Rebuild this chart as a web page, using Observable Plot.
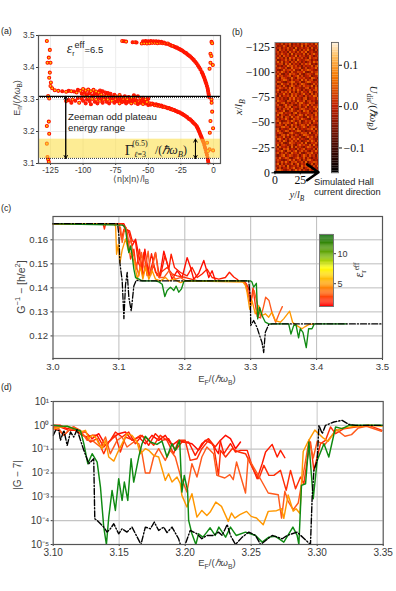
<!DOCTYPE html>
<html><head><meta charset="utf-8">
<script src="https://cdn.jsdelivr.net/npm/d3@7"></script>
<script src="https://cdn.jsdelivr.net/npm/@observablehq/plot@0.6"></script>
<style>
html,body{margin:0;padding:0;background:#fff}
#root{position:relative;width:396px;height:591px;overflow:hidden;font-family:"Liberation Sans",sans-serif}
#root svg{position:absolute;left:0;background:transparent;overflow:visible}
.t{position:absolute;white-space:nowrap;line-height:1;color:#222}
.t sub,.t sup{font-size:72%;line-height:0}
</style></head><body><div id="root"></div>
<script>
// ---------- panel (a): eigenvalues ----------
const edgeLeft=[[-127.8,3.483],[-125.5,3.455],[-126.3,3.431],[-127.3,3.415],[-125,3.415],[-125.5,3.384],[-126,3.368],[-124.7,3.353],[-125,3.342],[-123.7,3.335],[-121.7,3.329],[-126.8,3.311],[-126,3.303],[-126.3,3.231],[-127.8,3.217],[-126,3.193],[-127.8,3.162],[-127.3,3.12],[-126.8,3.113],[-126.3,3.105]];
const edgeRight=[[-1.5,3.48],[-1,3.476],[-2.3,3.443],[-1.6,3.436],[-2.3,3.415],[-.5,3.408],[-3,3.396],[-1.5,3.3],[-1.4,3.29],[-1,3.262],[-2.3,3.233],[-.3,3.21],[-2.8,3.196],[-4.9,3.165],[-.3,3.141],[-3,3.144],[-4.2,3.139]];
const bandUpper=[[-119,3.327],[-116,3.326],[-113,3.324],[-111,3.327],[-109,3.326],[-107,3.325],[-105,3.322],[-104,3.33],[-102,3.327],[-101,3.318],[-100,3.333],[-99,3.322],[-98,3.328],[-97,3.316],[-96,3.331],[-95,3.32],[-94,3.326],[-93,3.312],[-92,3.33],[-91,3.319],[-90,3.325],[-89,3.314],[-88,3.322],[-87,3.328],[-86,3.316],[-85,3.326],[-84,3.31],[-83,3.322],[-82,3.312],[-81,3.32],[-80,3.31],[-79,3.318],[-78,3.308],[-76,3.315],[-75,3.31],[-74,3.306],[-72,3.314],[-71,3.308],[-70,3.304],[-68,3.31],[-67,3.305],[-65,3.308],[-63,3.305],[-61,3.313],[-60,3.303],[-58,3.31],[-56,3.302],[-54,3.305],[-52,3.3],[-50,3.302]];
const bandLower=[[-113,3.295],[-111,3.298],[-109,3.29],[-108,3.3],[-106,3.296],[-104,3.305],[-103,3.29],[-101,3.302],[-100,3.296],[-99,3.31],[-98,3.288],[-97,3.3],[-96,3.306],[-95,3.295],[-94,3.285],[-93,3.302],[-92,3.31],[-91,3.293],[-90,3.3],[-89,3.288],[-88,3.306],[-87,3.296],[-86,3.302],[-85,3.29],[-84,3.3],[-83,3.306],[-82,3.293],[-81,3.3],[-80,3.288],[-79,3.303],[-78,3.296],[-77,3.305],[-76,3.29],[-75,3.3],[-74,3.295],[-73,3.303],[-72,3.288],[-71,3.298],[-70,3.292],[-69,3.3],[-68,3.295],[-67,3.288],[-66,3.3],[-65,3.293],[-64,3.298],[-63,3.288],[-62,3.295],[-61,3.3],[-60,3.29],[-59,3.296],[-58,3.286],[-57,3.294],[-56,3.29],[-55,3.297],[-54,3.286],[-53,3.293],[-52,3.288],[-51,3.292],[-50,3.283]];
const lowerCurve=[[-49,3.288],[-48,3.284],[-47,3.287],[-46,3.285],[-45,3.282],[-44,3.285],[-43,3.281],[-42,3.283],[-41,3.279],[-40,3.281],[-39,3.277],[-38,3.278],[-37,3.276],[-36,3.275],[-35,3.273],[-34,3.273],[-33,3.27],[-32,3.27],[-31,3.267],[-30,3.267],[-29,3.264],[-28,3.263],[-27,3.26],[-26,3.26],[-25,3.257],[-24,3.255],[-23,3.252],[-22,3.25],[-21,3.247],[-20,3.244],[-19,3.24],[-18,3.238],[-17,3.234],[-16,3.23],[-15,3.226],[-14,3.222],[-13,3.217],[-12.5,3.213],[-12,3.209],[-11.5,3.205],[-11,3.2],[-10.5,3.195],[-10,3.19],[-9.5,3.185],[-9,3.18],[-8.5,3.175],[-8,3.17],[-7.5,3.165],[-7,3.158],[-6.5,3.15],[-6,3.143],[-5.5,3.135],[-5,3.127],[-4.5,3.118],[-4.2,3.11],[-3.9,3.103]];
const upperCurve=[[-70,3.483],[-68.5,3.482],[-67,3.481],[-62,3.479],[-60,3.479],[-59,3.478],[-55,3.475],[-54,3.482],[-53,3.476],[-52,3.483],[-51,3.475],[-50,3.482],[-49,3.476],[-48,3.483],[-47,3.477],[-46,3.482],[-45,3.477],[-44,3.482],[-43,3.476],[-42,3.481],[-41,3.477],[-40,3.48],[-39,3.476],[-38,3.478],[-37,3.475],[-36,3.474],[-35,3.475],[-34,3.472],[-33,3.47],[-32,3.468],[-31,3.467],[-30,3.465],[-29,3.463],[-28,3.462],[-27,3.459],[-26,3.458],[-25,3.455],[-24,3.453],[-23,3.45],[-22,3.447],[-21,3.445],[-20,3.441],[-19,3.438],[-18,3.435],[-17,3.431],[-16,3.427],[-15,3.423],[-14,3.418],[-13,3.413],[-12,3.407],[-11,3.401],[-10,3.394],[-9,3.386],[-8.5,3.382],[-8,3.377],[-7.5,3.372],[-7,3.367],[-6.5,3.361],[-6,3.355],[-5.5,3.349],[-5,3.342],[-4.5,3.335],[-4.2,3.328],[-3.9,3.321],[-3.6,3.315],[-3.3,3.308]];
const plateauTop=3.31, plateauBottom=3.116, gammaTop=3.176;

// ---------- panel (b): disorder potential, one digit per cell, level = (d-5)*0.013 ----------
const disorderRows=[
"4537264815362748536294","6243851726453917264538","3572648351924635718246","5184627349516274935172","4726351846273859146325","2648537192645381726954",
"5371846253917462385146","3846271958364725194673","6125483726195347862531","4938265174836251473968","3567184926351748692415","7241539684725163548279",
"4685371294658137246593","5213846759231846975324","3749625184376592138467","6482153967428315764289","2957346815693724581346","4618752394186573429751",
"5326984173562948367125","3874215698347126985463","6139547283615974213846","4762831596247385649172","2586473918564237815394","5943126748395162473685",
"3617584926173845296147","7254936185742693518273","4182657394826517364982","5736241859364278145639","2965418736295481673524","6347825164738952486713",
"4821593672148365927346","3574286915637248153869","5162748395216874364592","7435912684375196825147","2689364517926345741683","4917523846159728356294",
"5348176293684512947365","3726495128573964218576","6851237496248137563942","4293768515937246481657","5674182394615873926314","2438956172843695157842",
"6715324869172534769283","3962487153698241345716","4586213795324867291548","5127849362751498634275","7364925186437215958361","3895162748593642176423",
"4273961584726135849627","5648213976354829126583","3916752483169574382941","6284537192846315975264","4731869254173682543718","2569418736925847316495",
"5826374195638214769352","3147925863471596284617","6493587214695382741536","4752136948257163895243","2638495176834729156874","5917263481592647328165",
"3485719246371958462739","6271548369246815793542","4896325714958263174685","5324976182735491628357"];
const disorderCols=22;
const disorderValues=disorderRows.flatMap(r=>Array.from(r,d=>(+d-5)*0.013));
const potentialStops=[-0.16,-0.1,0,0.07,0.12,0.16];
const potentialColors=["#000000","#440800","#c02000","#f57800","#ffc060","#ffffff"];

// ---------- panel (c): inverse conductance ----------
const cRedA=[[3,.1667],[3.1076,.1667],[3.1101,.1651],[3.1151,.163],[3.1202,.1575],[3.1253,.1603],[3.1303,.1533],[3.1354,.1471],[3.1394,.1561],[3.1455,.145],[3.1556,.1547],[3.1616,.1443],[3.1682,.1553],[3.1758,.1478],[3.1808,.1436],[3.1884,.1471],[3.196,.1443],[3.2035,.1526],[3.2086,.1486],[3.2136,.1436],[3.2212,.1461],[3.2288,.1514],[3.2364,.1443],[3.2414,.1471],[3.2465,.1429]];
const cRedB=[[3,.1667],[3.105,.1667],[3.1101,.1644],[3.1162,.1637],[3.1202,.1596],[3.1253,.159],[3.1293,.1506],[3.1343,.1478],[3.1379,.1547],[3.1429,.1451],[3.1495,.1542],[3.1556,.1464],[3.1631,.145],[3.1697,.1533],[3.1758,.1478],[3.1793,.154],[3.1843,.1485],[3.1934,.1464],[3.2035,.145],[3.2111,.1485],[3.2187,.1443],[3.2263,.1458],[3.2338,.1478],[3.2414,.1443],[3.2515,.1436],[3.2616,.1443],[3.2677,.1465],[3.2743,.1445],[3.2793,.1436],[3.282,.1429],[3.2894,.1429],[3.2934,.1417],[3.297,.1396],[3.3005,.1347]];
const cRedC=[[3,.1667],[3.076,.1667],[3.078,.1645],[3.08,.1667],[3.1,.1667],[3.104,.1603],[3.1076,.1644],[3.1126,.163],[3.1177,.152],[3.1227,.1561],[3.1263,.1478],[3.1313,.1561],[3.1364,.145],[3.1414,.1506],[3.1455,.145],[3.1531,.1492],[3.1581,.145],[3.1667,.1471],[3.1732,.1485],[3.1808,.1458],[3.1884,.145],[3.201,.1443],[3.22,.1429],[3.29,.1429],[3.2924,.1417],[3.2975,.1361],[3.3,.1325],[3.3035,.14],[3.307,.133],[3.31,.128],[3.315,.1275]];
const cRedD=[[3,.1667],[3.098,.1667],[3.1025,.1651],[3.105,.1589],[3.1076,.1631],[3.1111,.1651],[3.1141,.1575],[3.1177,.1603],[3.1212,.1547],[3.1253,.1506],[3.1303,.145],[3.1343,.1547],[3.1394,.1471],[3.1444,.1553],[3.148,.1451],[3.1556,.1547],[3.1606,.1443],[3.1682,.1443],[3.1758,.1471],[3.1859,.1436],[3.1934,.1443],[3.201,.1429],[3.2874,.1428],[3.2924,.1417],[3.296,.1375],[3.3,.1347],[3.3051,.1389],[3.3101,.1333],[3.3152,.1278],[3.3192,.1319],[3.3227,.1361],[3.3278,.1347],[3.3328,.1292],[3.3379,.1257],[3.343,.1292],[3.348,.1322]];
const cOrange=[[3,.1667],[3.0924,.1667],[3.095,.1656],[3.0965,.154],[3.099,.1581],[3.1015,.1504],[3.105,.1558],[3.1101,.1604],[3.1151,.1547],[3.1192,.154],[3.1242,.1497],[3.1278,.1436],[3.1328,.1486],[3.1364,.1436],[3.1404,.1486],[3.1455,.1436],[3.1505,.1471],[3.1556,.1436],[3.1631,.1429],[3.1707,.1443],[3.1758,.1429],[3.1833,.1436],[3.1934,.1422],[3.201,.1429],[3.2884,.1424],[3.2919,.141],[3.2944,.1383],[3.2985,.1311],[3.302,.1347],[3.307,.1292],[3.3121,.1326],[3.3172,.1285],[3.3222,.1292],[3.3273,.1278],[3.3323,.1299],[3.3374,.1264],[3.345,.1257],[3.35,.1271],[3.3591,.1303],[3.3636,.1257],[3.3677,.1247],[3.3778,.123],[3.3828,.1239],[3.3879,.1247],[3.3955,.125]];
const cGreen=[[3,.1667],[3.105,.1661],[3.1076,.1658],[3.1101,.1644],[3.1126,.1589],[3.1151,.1547],[3.1177,.1575],[3.1202,.1533],[3.1227,.1478],[3.1253,.1443],[3.1303,.1436],[3.1354,.1429],[3.1556,.1429],[3.1606,.1425],[3.1657,.1415],[3.1697,.1364],[3.1732,.1389],[3.1783,.1403],[3.1833,.1389],[3.1869,.1407],[3.1909,.1382],[3.195,.1396],[3.1985,.1426],[3.201,.1429],[3.3,.1429],[3.302,.1424],[3.3045,.1403],[3.3086,.1419],[3.3106,.1271],[3.3136,.1319],[3.3172,.1285],[3.3222,.1257],[3.3273,.125],[3.3576,.125],[3.3611,.1208],[3.3652,.1243],[3.3687,.1247],[3.3727,.1192],[3.3752,.123],[3.3793,.1215],[3.3843,.1151],[3.3879,.123],[3.393,.123],[3.3965,.125],[3.445,.125]];
const cBlack=[[3,.1667],[3.098,.1667],[3.1,.1617],[3.1015,.1504],[3.105,.1429],[3.1076,.1272],[3.1101,.1415],[3.1126,.1464],[3.1151,.136],[3.1187,.1304],[3.1227,.1408],[3.1263,.1432],[3.13,.1429],[3.297,.1429],[3.2995,.1361],[3.3,.1243],[3.3045,.1264],[3.3095,.1236],[3.3136,.1201],[3.3172,.1172],[3.3197,.1131],[3.3222,.1215],[3.3273,.1247],[3.3323,.125],[3.5,.125]];

// ---------- panel (d): |G-7|, second member is log10 ----------
const dRedA=[[3.1,0],[3.1055,0],[3.1106,-.14],[3.1156,-.07],[3.1207,-.28],[3.1244,-.28],[3.1295,-.56],[3.1345,-.35],[3.1396,-.84],[3.1446,-.56],[3.1496,-.35],[3.1547,-.28],[3.1597,-.63],[3.1648,-.49],[3.1698,-.77],[3.1748,-.42],[3.1799,-.63],[3.1849,-.42],[3.19,-.84],[3.195,-.63],[3.1988,-.7],[3.2051,-.77],[3.2101,-1.05],[3.2152,-.63],[3.2202,-.77],[3.2252,-1.19],[3.2268,-.63],[3.2306,-.42],[3.2343,-.56],[3.2381,-.98],[3.2419,-.7]];
const dRedB=[[3.1,-.07],[3.1055,-.07],[3.1118,-.21],[3.1169,-.21],[3.1219,-.42],[3.1257,-.49],[3.1295,-.42],[3.1333,-.42],[3.1383,-.91],[3.1433,-.63],[3.1471,-.28],[3.1522,-.49],[3.1572,-.28],[3.1622,-.77],[3.1673,-.42],[3.1723,-.84],[3.1774,-.35],[3.1824,-.63],[3.1874,-.56],[3.1925,-1.05],[3.1975,-.7],[3.2026,-.7],[3.2076,-1.26],[3.2126,-.77],[3.2177,-.56],[3.2227,-.91],[3.2265,-.63],[3.2293,-1.19],[3.2343,-.77],[3.2381,-1.12],[3.2419,-1.05],[3.247,-1.05],[3.2508,-1.75],[3.2545,-2.24],[3.2583,-1.61],[3.2609,-1.12],[3.2659,-.8],[3.2697,-1.33],[3.2722,-1.05],[3.2755,-1.36]];
const dRedC=[[3.1,-.14],[3.1043,-.21],[3.1081,-.42],[3.1131,-.14],[3.1181,-.21],[3.1232,-.42],[3.1282,-.7],[3.1333,-.56],[3.1383,-1.19],[3.1421,-.7],[3.1471,-.42],[3.1509,-1.12],[3.1547,-.49],[3.161,-.63],[3.166,-.42],[3.1711,-.56],[3.1761,-.84],[3.1811,-.42],[3.1862,-.63],[3.1912,-1.19],[3.195,-.63],[3.2,-.63],[3.2038,-1.47],[3.2089,-1.4],[3.2126,-.98],[3.2177,-.63],[3.2215,-.84],[3.2252,-2.1],[3.2268,-1.05],[3.2306,-1.33],[3.2356,-.98],[3.2407,-1.12],[3.2457,-1.19],[3.2482,-1.47],[3.252,-1.89],[3.2558,-2.24],[3.2596,-1.68],[3.2634,-2.1],[3.2672,-2.1],[3.2722,-1.89],[3.2765,-2.73],[3.2798,-1.89],[3.2836,-2.66],[3.2874,-2.17],[3.2899,-2.45],[3.2924,-1.47],[3.2949,-.7],[3.2975,-1.89],[3.3025,-.77],[3.3063,-.63],[3.3101,-.07],[3.3139,-.35],[3.3202,-.14],[3.329,-.07],[3.3391,0],[3.3492,-.21]];
const dRedD=[[3.1,-.07],[3.1043,-.14],[3.1081,-.42],[3.1118,-.21],[3.1156,-.07],[3.1207,-.21],[3.1257,-.63],[3.1295,-.63],[3.1358,-.91],[3.1396,-.49],[3.1433,-1.19],[3.1484,-.63],[3.1522,-.49],[3.1559,-.91],[3.161,-.7],[3.1648,-.77],[3.1673,-1.19],[3.1698,-2],[3.1731,-2],[3.1761,-1.33],[3.1799,-.98],[3.1849,-1.47],[3.1887,-1.05],[3.1925,-1.33],[3.1963,-2.1],[3.2013,-2.8],[3.2051,-1.61],[3.2089,-2.17],[3.2126,-1.33],[3.2164,-.91],[3.2215,-1.19],[3.224,-2.1],[3.23,-2.21],[3.2338,-2.07],[3.2364,-2.28],[3.2389,-1.54],[3.2457,-2.84],[3.2477,-1.37],[3.2566,-2.21],[3.2629,-2.84],[3.2705,-2.91],[3.273,-3.89],[3.2755,-2.77],[3.278,-3.19],[3.2818,-3.54],[3.2856,-3.26],[3.2894,-2.07],[3.2939,-.6],[3.297,-1.37],[3.3,-.67],[3.3058,-.81],[3.3096,-.53],[3.3146,-.18],[3.321,-.46],[3.326,-.39],[3.3311,-.11],[3.3374,-.04],[3.3487,-.25]];
const dOrange=[[3.1,-.14],[3.1055,-.07],[3.1106,-.04],[3.1156,-.14],[3.1207,-.28],[3.1244,-.21],[3.127,-.56],[3.1295,-.42],[3.132,-.49],[3.1345,-.77],[3.137,-.98],[3.1396,-.63],[3.1421,-1.33],[3.1459,-1.5],[3.1484,-1.19],[3.1522,-.77],[3.1559,-.35],[3.1597,-.42],[3.1635,-.7],[3.166,-1.19],[3.1698,-.98],[3.1723,-1.05],[3.1761,-1.26],[3.1799,-1.33],[3.1824,-1.82],[3.1849,-2.31],[3.1874,-2.03],[3.19,-2.38],[3.1938,-2.17],[3.1963,-2.45],[3.1975,-2.94],[3.2013,-3.43],[3.2051,-2.87],[3.2089,-3.85],[3.2126,-3.57],[3.2164,-3.78],[3.2189,-3.64],[3.2232,-3.22],[3.2275,-3.4],[3.2326,-4.03],[3.2351,-3.68],[3.2376,-3.89],[3.2414,-3.75],[3.2465,-3.61],[3.25,-3.82],[3.254,-3.89],[3.2591,-4.17],[3.2629,-3.61],[3.2692,-3.58],[3.273,-3.5],[3.2747,-3.9],[3.278,-2.92],[3.2818,-3.6],[3.284,-3.5],[3.2869,-3.7],[3.2894,-1.1],[3.2932,-.67],[3.2982,-.2],[3.3045,-.53],[3.3083,-.67],[3.3134,-.25],[3.3197,-.11],[3.3298,-.04],[3.3399,0],[3.35,-.04]];
const dGreen=[[3.1,0],[3.1055,-.03],[3.1106,-.04],[3.1156,-.14],[3.1207,-.24],[3.1232,-.77],[3.1262,-1.61],[3.1295,-1.19],[3.1333,-1.54],[3.1358,-2.59],[3.1383,-4.27],[3.1403,-5],[3.1421,-3.85],[3.1446,-2.73],[3.1471,-3.57],[3.1496,-2.24],[3.1522,-3.15],[3.1539,-2.38],[3.1565,-3.15],[3.159,-1.4],[3.161,-2.38],[3.1648,-1.33],[3.1673,-.77],[3.1698,-.46],[3.1736,-.7],[3.1786,-.8],[3.1824,-.66],[3.1862,-1.33],[3.19,-.77],[3.1925,-1.05],[3.1958,-.63],[3.1975,-2.8],[3.1993,-2.1],[3.2018,-2.73],[3.2026,-3.99],[3.2051,-4.55],[3.2081,-5],[3.2101,-4.55],[3.2134,-4.69],[3.2164,-4.48],[3.2189,-4.3],[3.2227,-4.62],[3.2255,-4.27],[3.2306,-4.69],[3.2343,-4.27],[3.2386,-4.62],[3.2457,-4.48],[3.2533,-4.62],[3.2583,-4.9],[3.2634,-4.69],[3.2684,-4.66],[3.2747,-4.9],[3.2816,-4.27],[3.2848,-4.62],[3.2861,-5],[3.2881,-2.52],[3.2912,-2.45],[3.2937,-.7],[3.297,-3.08],[3.3,-1.47],[3.3051,-.77],[3.3088,-1.33],[3.3139,-.07],[3.3189,-.14],[3.324,0],[3.334,0],[3.35,0]];
const dBlack=[[3.1,-.42],[3.1018,-.21],[3.1043,-.21],[3.1055,-.63],[3.1081,-.21],[3.1106,-.84],[3.1131,-.28],[3.1156,-.49],[3.1181,-.18],[3.1207,-.63],[3.1232,-1.05],[3.127,-1.61],[3.1307,-1.4],[3.1315,-3.92],[3.1333,-3.99],[3.1358,-4.13],[3.1383,-4.27],[3.1408,-4.48],[3.1433,-4.34],[3.1459,-4.13],[3.1496,-4.55],[3.1522,-4.34],[3.1559,-4.48],[3.1597,-4.27],[3.163,-4.62],[3.1665,-5],[3.1698,-4.27],[3.1736,-4.34],[3.1766,-4.06],[3.1799,-4.41],[3.1837,-4.27],[3.1862,-4.5],[3.19,-4.27],[3.195,-4.76],[3.1975,-5.2],[3.2,-5],[3.2038,-4.41],[3.2089,-4.55],[3.2126,-4.76],[3.2164,-4.62],[3.2215,-4.62],[3.2252,-4.48],[3.228,-4.62],[3.2318,-4.16],[3.2343,-4.62],[3.2381,-5],[3.2432,-4.69],[3.2482,-4.48],[3.2533,-4.62],[3.2571,-5],[3.2659,-4.62],[3.2735,-4.76],[3.2773,-4.62],[3.2848,-4.48],[3.2949,-5],[3.2962,-3.01],[3.2975,-1.89],[3.3,-1.47],[3.3013,0],[3.3038,-.35],[3.3063,0],[3.3126,.14],[3.3189,.21],[3.324,.04],[3.329,0],[3.35,0]];

// ---------- colours & scales ----------
const red="#ff0c00",red2="#ff1c00",red3="#ff2e06",red4="#ff5a1c",orange="#ff9800",green="#0f8a12",black="#000";
const epsStops=[1.2,4.5,7.5,9.5,13.2];
const epsColors=["#ff0000","#ff9000","#ffff00","#70b000","#006400"];
const gridC="#bdbdbd", frameC="#555", tickC="#3a3a3a";
const root=document.getElementById("root");
function place(plot,top){plot.style.top=top+"px";root.appendChild(plot);}
const sans=s=>({background:"transparent",fontFamily:'"Liberation Sans",sans-serif',fontSize:s+"px",color:tickC});
function P(L,R,T,B,o){place(Plot.plot(Object.assign({width:396,height:B-T+40,marginLeft:L,marginRight:396-R,marginTop:20,marginBottom:20},o)),T-20);}
const pair=a=>a.map(([x,y])=>({x,y}));

// (a)
const yellow="#ffd000", hot="#ff2400";
const bandPts=[...pair(bandUpper).map((p,i)=>({...p,f:i%2?hot:yellow})),...pair(bandLower).map((p,i)=>({...p,f:i%3?hot:yellow}))];
const curvePts=[...pair(lowerCurve),...pair(upperCurve)].map((p,i)=>({...p,f:p.x>-30||i%2?hot:yellow}));
const edgePts=[...pair(edgeLeft),...pair(edgeRight)].map(p=>({...p,f:yellow}));
P(38,220,34.5,162.5,{style:sans(8.2),x:{domain:[-134.2,5.4]},y:{domain:[3.1,3.5]},marks:[
  Plot.gridX([-125,-100,-75,-50,-25,0],{stroke:"#ececec",strokeOpacity:1}),
  Plot.gridY([3.2,3.3,3.4],{stroke:"#ececec",strokeOpacity:1}),
  Plot.dot([...bandPts,...curvePts,...edgePts],{x:"x",y:"y",r:1.5,fill:"f",stroke:"#ff1200",strokeWidth:1.1}),
  Plot.rect([{y1:plateauBottom,y2:gammaTop}],{x1:-134.2,x2:5.4,y1:"y1",y2:"y2",fill:"#fbdc3c",fillOpacity:.55}),
  Plot.ruleY([plateauTop-.004,plateauBottom],{stroke:"#333",strokeDasharray:"1,1",strokeWidth:1}),
  Plot.ruleY([plateauTop],{stroke:"#000",strokeWidth:1.2}),
  Plot.arrow([{x:-113.3,y1:plateauTop,y2:plateauBottom}],{x:"x",y1:"y1",y2:"y2",bend:0,stroke:"#000",strokeWidth:1,headLength:5,inset:0}),
  Plot.arrow([{x:-113.3,y1:plateauBottom,y2:plateauTop}],{x:"x",y1:"y1",y2:"y2",bend:0,stroke:"#000",strokeWidth:1,headLength:5,inset:0}),
  Plot.arrow([{x:-13.8,y1:gammaTop,y2:plateauBottom}],{x:"x",y1:"y1",y2:"y2",bend:0,stroke:"#000",strokeWidth:1,headLength:5,inset:0}),
  Plot.arrow([{x:-13.8,y1:plateauBottom,y2:gammaTop}],{x:"x",y1:"y1",y2:"y2",bend:0,stroke:"#000",strokeWidth:1,headLength:5,inset:0}),
  Plot.axisX({ticks:[-125,-100,-75,-50,-25,0],tickSize:2,tickPadding:2,label:null,tickFormat:d=>d<0?"-"+(-d):""+d}),
  Plot.axisY({ticks:[3.1,3.2,3.3,3.4,3.5],tickSize:2,tickPadding:2,label:null,tickFormat:".1f"}),
  Plot.frame({stroke:frameC,strokeWidth:1.2})
]});

// (b)
const serif={fontFamily:'"Liberation Serif",serif',fontSize:"11.8px",color:"#111",background:"transparent"};
P(274.5,318,41.7,172,{style:serif,x:{domain:[0,43]},y:{domain:[0,-130]},
  color:{type:"linear",domain:potentialStops,range:potentialColors},marks:[
  Plot.raster(disorderValues,{width:disorderCols,height:disorderRows.length,x1:0,x2:43,y1:-130,y2:0,fill:d=>d,imageRendering:"pixelated"}),
  Plot.axisX({ticks:[0,25],tickSize:2,tickPadding:1,label:null}),
  Plot.axisY({ticks:[-125,-100,-75,-50,-25,0],tickSize:3,tickPadding:2,label:null,tickFormat:d=>d<0?"\u2212"+(-d):""+d}),
  Plot.frame({stroke:"#888",strokeWidth:1}),
  Plot.arrow([{x1:0,x2:43}],{x1:"x1",x2:"x2",y1:-.5,y2:-.5,bend:0,stroke:"#000",strokeWidth:2.6,headLength:8,headAngle:70,inset:0})
]});
const levelsP=d3.range(-.16,.155,.004);
P(331,338,41.7,172,{style:serif,x:{axis:null,domain:[0,1]},y:{domain:[-.16,.155]},
  color:{type:"linear",domain:potentialStops,range:potentialColors},marks:[
  Plot.rect(levelsP,{x1:0,x2:1,y1:d=>d,y2:d=>d+.0042,fill:d=>d}),
  Plot.axisY({anchor:"right",ticks:[-.1,0,.1],tickSize:3,tickPadding:2,label:null,tickFormat:d=>d<0?"\u2212"+(-d).toFixed(1):d.toFixed(1)}),
  Plot.frame({stroke:"#555",strokeWidth:.8})
]});

// (c)
const cSeries=[[cRedA,red],[cRedB,red2],[cRedC,red3],[cRedD,red4],[cOrange,orange],[cGreen,green]];
P(52.5,382,216,358,{style:sans(9.6),x:{domain:[3,3.5]},y:{domain:[.1106,.1697]},marks:[
  Plot.gridX([3.1,3.2,3.3,3.4],{stroke:gridC,strokeOpacity:1,strokeWidth:1}),
  Plot.gridY([.12,.13,.14,.15,.16],{stroke:gridC,strokeOpacity:1,strokeWidth:1}),
  ...cSeries.map(([s,c])=>Plot.line(pair(s),{x:"x",y:"y",stroke:c,strokeWidth:1.35})),
  Plot.line(pair(cBlack),{x:"x",y:"y",stroke:black,strokeWidth:1.3,strokeDasharray:"6,2,1.2,2"}),
  Plot.axisX({ticks:[3,3.1,3.2,3.3,3.4,3.5],tickSize:2,tickPadding:3,label:null,tickFormat:".1f"}),
  Plot.axisY({ticks:[.12,.13,.14,.15,.16],tickSize:2,tickPadding:3,label:null,tickFormat:".2f"}),
  Plot.frame({stroke:frameC,strokeWidth:1.2})
]});
const levelsE=d3.range(1.2,13.2,.15);
P(319,333,234,306,{style:sans(9),x:{axis:null,domain:[0,1]},y:{domain:[1.2,13.2]},
  color:{type:"linear",domain:epsStops,range:epsColors},marks:[
  Plot.rect(levelsE,{x1:0,x2:1,y1:d=>d,y2:d=>d+.16,fill:d=>d}),
  Plot.axisY({anchor:"right",ticks:[5,10],tickSize:2,tickPadding:2,label:null}),
  Plot.frame({stroke:"#777",strokeWidth:1})
]});

// (d)
const sup={"-":"\u207B","0":"\u2070","1":"\u00B9","2":"\u00B2","3":"\u00B3","4":"\u2074","5":"\u2075"};
const powLabel=d=>"10"+String(Math.round(Math.log10(d))).split("").map(c=>sup[c]).join("");
const dSeries=[[dRedA,red],[dRedB,red2],[dRedC,red3],[dRedD,red4],[dOrange,orange],[dGreen,green]];
const dDecades=[1e-5,1e-4,1e-3,1e-2,1e-1,1,10];
const gPts=s=>s.map(([x,e])=>({x,y:Math.pow(10,e)}));
P(52.7,382.7,401,544,{style:sans(10),x:{domain:[3.1,3.35]},y:{type:"log",domain:[1e-5,10]},marks:[
  Plot.gridX([3.15,3.2,3.25,3.3],{stroke:"#dcdcdc",strokeOpacity:1,strokeWidth:1.6}),
  Plot.gridY(dDecades.slice(0,-1),{stroke:"#c4c4c4",strokeOpacity:1,strokeWidth:1.1}),
  ...dSeries.map(([s,c])=>Plot.line(gPts(s),{x:"x",y:"y",stroke:c,strokeWidth:1.45,clip:true})),
  Plot.line(gPts(dBlack),{x:"x",y:"y",stroke:black,strokeWidth:1.4,strokeDasharray:"6,2,1.2,2",clip:true}),
  Plot.axisX({ticks:[3.1,3.15,3.2,3.25,3.3,3.35],tickSize:2,tickPadding:2,label:null,tickFormat:".2f"}),
  Plot.axisY({ticks:dDecades,tickSize:2,tickPadding:2,label:null,tickFormat:powLabel}),
  Plot.frame({stroke:frameC,strokeWidth:1.2})
]});

// ---------- text ----------
function T(html,x,y,o={}){const d=document.createElement("div");d.className="t";d.innerHTML=html;
  const size=o.size||8.5;d.style.fontSize=size+"px";d.style.left=x+"px";d.style.top=y+"px";
  if(o.font)d.style.fontFamily=o.font;if(o.color)d.style.color=o.color;
  d.style.transform=`translate(${o.left?"0":"-50%"},-50%) rotate(${o.rot||0}deg)`;root.appendChild(d);}
const SER='"Liberation Serif",serif';
T("(a)",1,31,{left:1,size:8.8});T("(b)",232,32,{left:1,size:8.8});T("(c)",1,208,{left:1,size:8.8});T("(d)",1,387,{left:1,size:8.8});
T("E<sub>n</sub>/(<i>ℏω</i><sub>B</sub>)",17,98,{rot:-90,size:9,color:"#444"});
T("⟨n|x|n⟩/l<sub>B</sub>",131,179,{size:9,color:"#444"});
T('<i style="font-family:\'Liberation Serif\',serif;font-size:14px">ε</i><sub>r</sub><sup style="font-size:9px;position:relative;top:-1px">eff</sup>=6.5',85,49,{size:9.5});
T("Zeeman odd plateau",68,117,{left:1,size:9.7});T("energy range",68,128,{left:1,size:9.7});
T("Γ",129,150,{font:SER,size:15});T("(6.5)",140,144,{font:SER,size:8});T("<i>ℓ</i>=3",140,154.5,{font:SER,size:8});
T("/(<i>ℏω</i><sub><i>B</i></sub>)",171,150,{font:SER,size:12});
T("<i>x</i>/<i>l</i><sub><i>B</i></sub>",238,107,{rot:-90,font:SER,size:11});
T("<i>y</i>/<i>l</i><sub><i>B</i></sub>",297,195,{font:SER,size:10});
T("Simulated Hall",314,183,{left:1,size:9.3});T("current direction",314,193,{left:1,size:9.3});
T("<i>U</i><sub>dis</sub>/(<i>ℏω</i><sub><i>B</i></sub>)",373,108,{rot:90,font:SER,size:10.5});
T('<i style="font-size:12px">ε</i><sub>r</sub><sup>eff</sup>',359,270,{rot:-90,font:SER,size:10});
T("E<sub>F</sub>/(<i>ℏω</i><sub>B</sub>)",217,379,{size:9.5,color:"#444"});
T("E<sub>F</sub>/(<i>ℏω</i><sub>B</sub>)",217,563,{size:9.5,color:"#444"});
T("G<sup>−1</sup> − [h/e<sup>2</sup>]",21,287,{rot:-90,size:10.5,color:"#444"});
T("|G − 7|",18,475,{rot:-90,size:10,color:"#444"});
</script></body></html>
